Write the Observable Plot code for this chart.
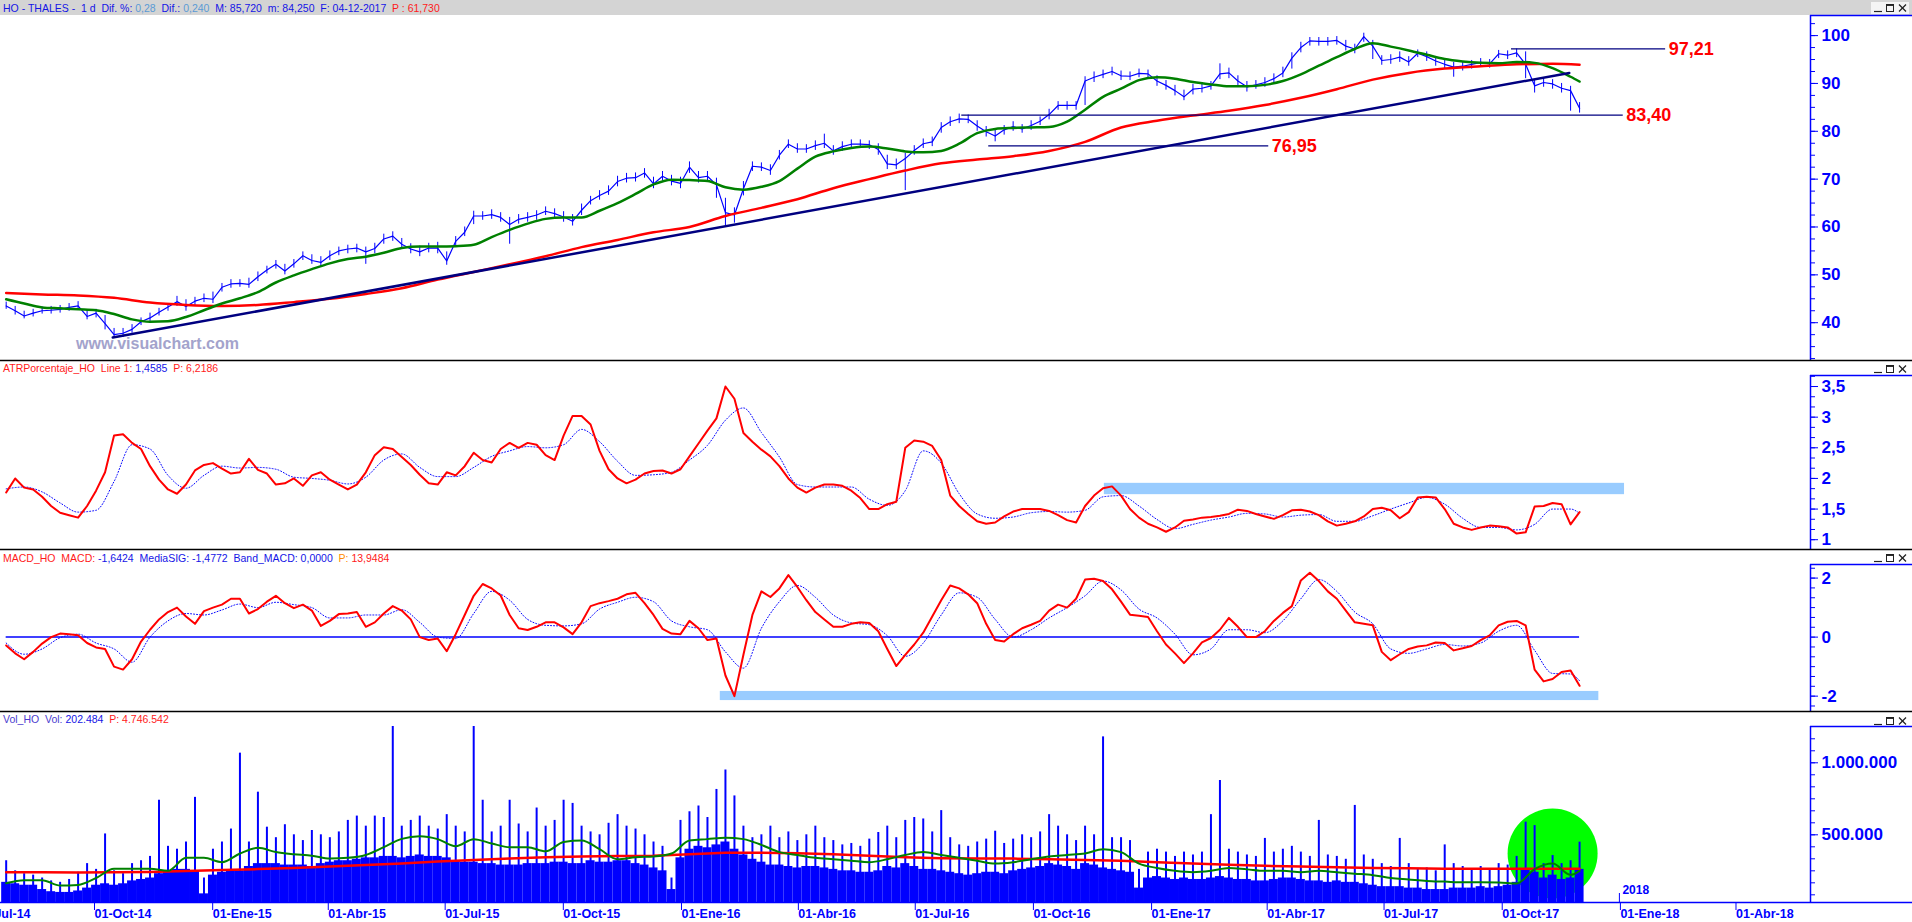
<!DOCTYPE html>
<html>
<head>
<meta charset="utf-8">
<script src="https://cdn.jsdelivr.net/npm/d3@7"></script>
<script src="https://cdn.jsdelivr.net/npm/@observablehq/plot@0.6"></script>
<style>
  body { margin: 0; background: #fff; }
  #wrap { position: relative; width: 1912px; height: 922px; overflow: hidden; font-family: "Liberation Sans", Arial, sans-serif; background:#fff; }
  .pane { position: absolute; left: 0; }
  .hdr { position: absolute; left: 3px; white-space: pre; font-size: 10.5px; line-height: 14px; height: 14px; }
  .wm { position: absolute; left: 76px; top: 335px; font: bold 16px "Liberation Sans", Arial, sans-serif; color: #a3a3cc; }
  #wrap svg text { font-family: "Liberation Sans", Arial, sans-serif; }
</style>
</head>
<body>
<div id="wrap"></div>
<script>
// ---------------- DATA ----------------
const firstWeek = "2014-07-25";          // first weekly sample (one value per week)
const mesAbbr = ["Ene","Feb","Mar","Abr","May","Jun","Jul","Ago","Sep","Oct","Nov","Dic"];
const xTickDates = ["2014-07-01","2014-10-01","2015-01-01","2015-04-01","2015-07-01","2015-10-01",
  "2016-01-01","2016-04-01","2016-07-01","2016-10-01","2017-01-01","2017-04-01","2017-07-01",
  "2017-10-01","2018-01-01","2018-04-01"];
const yearMark = "2018-01-01";

// price (weekly close / high / low)
const close = [
 43.5,42.5,41.4,42.0,42.5,42.6,42.8,43.2,43.5,41.3,
 42.0,39.8,37.5,37.8,38.6,40.2,41.0,42.2,43.3,44.4,
 43.4,44.5,45.1,44.9,47.4,48.1,48.2,48.0,49.6,51.0,
 52.2,50.8,52.3,54.0,53.0,52.6,54.0,55.0,55.4,55.6,
 54.8,55.5,57.5,58.1,56.4,55.4,54.8,55.6,55.6,52.9,
 57.0,58.9,62.3,62.3,62.6,62.0,60.5,61.6,62.0,62.5,
 63.3,62.8,62.1,61.2,63.5,65.5,66.6,67.5,69.5,70.2,
 70.3,71.3,69.0,70.6,69.6,69.1,72.5,70.3,70.6,68.8,
 63.0,62.5,68.0,72.7,72.5,71.8,75.0,77.3,76.3,76.3,
 77.0,77.5,75.9,76.8,77.3,77.3,77.2,76.2,73.2,73.0,
 74.3,76.0,77.4,77.8,80.8,82.0,82.6,82.5,81.1,79.9,
 79.0,80.3,81.0,80.5,81.2,82.1,83.5,85.4,85.4,85.4,
 90.5,91.3,91.9,92.5,91.6,91.5,92.1,92.0,90.5,89.6,
 88.5,87.2,88.8,89.0,89.5,92.0,92.2,90.5,89.3,89.7,
 90.2,91.0,92.2,95.3,97.5,98.9,98.8,98.8,99.0,97.8,
 97.2,99.8,97.8,94.8,95.0,95.5,94.5,96.3,95.6,94.7,
 94.0,93.4,93.6,94.0,94.4,94.1,96.2,95.9,96.4,94.0,
 89.5,90.2,89.9,89.0,88.5,84.8];
const high = [
 44.3,43.4,42.4,42.8,43.3,43.4,43.6,44.0,44.4,42.6,
 42.8,41.5,38.8,38.8,39.6,41.0,42.0,43.0,44.0,45.5,
 44.8,45.3,46.0,46.4,48.2,49.0,49.0,49.3,50.6,51.8,
 53.0,52.2,53.2,54.8,54.2,53.8,55.0,55.8,56.2,56.4,
 55.8,56.6,58.5,59.0,57.6,56.5,56.0,56.6,56.8,54.8,
 58.0,60.0,63.3,63.2,63.6,63.0,62.0,62.6,63.0,63.4,
 64.2,63.8,63.2,62.6,64.8,66.4,67.6,68.6,70.6,71.2,
 71.3,72.2,70.4,71.6,70.8,70.4,73.6,71.6,71.6,70.2,
 66.0,64.0,69.5,73.6,73.4,73.0,76.0,78.2,77.4,77.2,
 78.0,79.4,77.0,77.8,78.2,78.2,78.0,77.4,75.0,74.2,
 75.4,77.0,78.4,78.8,81.8,83.0,83.6,83.4,82.2,81.0,
 80.2,81.2,82.0,81.4,82.2,83.0,84.6,86.2,86.2,86.2,
 91.4,92.4,92.8,93.4,92.6,92.4,93.0,92.8,91.6,90.6,
 89.6,88.6,89.8,90.0,90.4,94.1,93.2,91.6,90.4,90.6,
 91.2,92.0,93.4,96.4,98.6,99.6,99.6,99.6,99.8,99.0,
 98.2,100.5,99.0,95.8,96.0,96.6,95.6,97.0,96.6,95.6,
 94.8,94.4,94.4,94.8,95.2,95.0,96.9,96.8,97.2,96.6,
 90.6,91.0,90.8,90.0,89.4,86.0];
const low = [
 42.8,41.6,40.8,41.2,41.8,41.8,42.0,42.4,42.6,40.6,
 41.0,38.5,36.8,36.9,37.8,39.4,40.2,41.4,42.4,43.4,
 42.4,43.6,44.2,44.0,46.4,47.2,47.4,47.2,48.6,50.2,
 51.2,50.0,51.4,53.0,52.2,51.6,53.0,54.0,54.4,54.6,
 52.2,54.4,56.4,57.0,55.4,54.4,53.8,54.6,54.4,52.0,
 55.8,58.0,60.5,61.4,61.6,61.0,56.4,60.6,61.0,61.4,
 62.4,61.8,61.0,60.2,62.4,64.6,65.6,66.6,68.4,69.2,
 69.4,70.2,68.0,69.6,68.6,68.0,71.2,69.2,69.4,66.0,
 60.2,60.8,66.5,71.6,71.6,70.8,74.0,76.4,75.4,75.4,
 76.0,76.4,75.0,75.8,76.4,76.4,76.2,75.0,72.0,72.0,
 67.6,75.0,76.4,76.8,79.6,81.0,81.6,81.6,80.0,78.8,
 77.8,79.2,80.0,79.6,80.2,81.2,82.4,84.4,84.4,84.4,
 85.4,90.2,91.0,91.6,90.6,90.6,91.2,91.0,89.4,88.6,
 87.4,86.4,87.6,88.0,88.6,90.8,91.0,89.4,88.2,88.8,
 89.2,90.0,91.2,93.0,96.4,97.8,97.8,97.8,98.0,96.8,
 96.2,98.6,95.0,93.8,94.0,94.4,93.6,95.4,94.6,93.6,
 93.0,91.3,92.6,93.0,93.4,93.2,95.2,95.0,95.4,91.0,
 88.0,89.2,88.8,88.0,84.2,83.8];
// moving averages of price (green: every 2 weeks, red: every 4 weeks, last = final bar)
const smaGreen = [
 44.9,44.0,43.2,43.0,42.8,42.6,41.8,40.7,40.2,40.3,
 41.2,42.6,44.0,45.1,46.4,48.4,49.9,51.2,52.4,53.3,
 53.8,54.6,55.6,55.9,55.9,56.0,56.3,57.9,59.4,60.7,
 61.7,62.0,62.0,63.4,65.0,66.9,68.9,69.9,69.8,69.6,
 68.3,67.8,68.4,69.6,72.2,74.7,75.8,76.5,76.8,76.4,
 75.8,75.6,75.9,77.4,79.6,80.5,80.7,80.8,80.9,82.0,
 84.5,87.2,88.9,90.7,91.3,91.0,90.3,89.8,89.4,89.4,
 89.7,90.5,91.9,93.7,95.5,97.2,98.4,97.7,96.9,96.0,
 95.1,94.6,94.3,94.2,94.5,94.3,93.2,91.4,90.4];
const smaRed = [
 46.2,45.9,45.7,45.2,44.2,43.7,43.5,43.7,44.3,45.0,
 46.0,47.2,49.0,50.6,52.2,53.9,55.8,57.3,58.9,60.0,
 62.3,64.0,65.8,68.1,70.0,71.8,73.3,74.1,74.8,75.9,
 77.8,80.8,82.2,83.3,84.3,85.5,87.0,88.8,90.8,92.2,
 93.1,93.6,94.0,94.1,93.9];
const trend = [{date: "2014-10-16", value: 36.9}, {date: "2017-11-23", value: 92.2}];
const levels = [
  {value: 97.21, from: "2017-10-09", to: "2018-02-06", label: "97,21"},
  {value: 83.40, from: "2016-08-07", to: "2018-01-04", label: "83,40"},
  {value: 76.95, from: "2016-08-28", to: "2017-04-03", label: "76,95"}];
const priceTicks = [40, 50, 60, 70, 80, 90, 100];

// ATR % (weekly) and its signal (every 2 weeks)
const atr = [
 1.77,2.0,1.85,1.82,1.7,1.55,1.44,1.4,1.36,1.55,
 1.8,2.1,2.7,2.72,2.58,2.48,2.2,1.98,1.82,1.75,
 1.9,2.13,2.22,2.25,2.16,2.08,2.1,2.32,2.14,2.08,
 1.9,1.92,2.0,1.88,2.05,2.1,1.98,1.9,1.82,1.9,
 2.1,2.38,2.51,2.48,2.35,2.22,2.06,1.92,1.9,2.1,
 2.05,2.2,2.42,2.3,2.26,2.48,2.58,2.5,2.58,2.55,
 2.38,2.3,2.7,3.02,3.02,2.88,2.45,2.15,2.0,1.92,
 1.98,2.08,2.12,2.13,2.08,2.15,2.36,2.57,2.78,2.98,
 3.5,3.3,2.74,2.6,2.47,2.36,2.2,2.0,1.85,1.77,
 1.85,1.9,1.9,1.88,1.8,1.68,1.5,1.5,1.58,1.62,
 2.5,2.62,2.6,2.53,2.3,1.72,1.55,1.42,1.3,1.26,
 1.28,1.38,1.46,1.5,1.5,1.5,1.47,1.4,1.32,1.28,
 1.55,1.72,1.84,1.87,1.72,1.5,1.36,1.26,1.2,1.13,
 1.2,1.31,1.33,1.36,1.37,1.39,1.42,1.49,1.47,1.42,
 1.38,1.34,1.4,1.48,1.49,1.46,1.4,1.3,1.23,1.26,
 1.3,1.38,1.5,1.52,1.48,1.35,1.45,1.69,1.7,1.69,
 1.5,1.26,1.2,1.16,1.2,1.23,1.22,1.2,1.1,1.12,
 1.54,1.55,1.6,1.58,1.25,1.45];
const atrSignal = [
 1.83,1.86,1.78,1.6,1.45,1.48,1.95,2.55,2.48,2.05,
 1.84,2.05,2.2,2.17,2.18,2.15,2.02,2.0,1.97,1.91,
 2.02,2.3,2.4,2.18,2.03,2.03,2.18,2.36,2.45,2.52,
 2.5,2.55,2.8,2.6,2.28,2.05,2.06,2.1,2.3,2.54,
 2.95,3.15,2.75,2.35,1.9,1.86,1.86,1.86,1.66,1.56,
 1.8,2.45,2.25,1.75,1.42,1.35,1.37,1.44,1.46,1.45,
 1.48,1.7,1.72,1.55,1.33,1.18,1.25,1.32,1.37,1.43,
 1.42,1.37,1.4,1.41,1.3,1.3,1.39,1.5,1.6,1.69,
 1.58,1.35,1.2,1.2,1.16,1.25,1.5,1.5,1.43];
const atrBand = [{from: "2016-11-26", to: "2018-01-05", lo: 1.735, hi: 1.92}];
const atrTicks = [1, 1.5, 2, 2.5, 3, 3.5];

// MACD (weekly) and its signal (every 2 weeks)
const macd = [
 -0.28,-0.55,-0.75,-0.5,-0.22,0.0,0.12,0.1,0.06,-0.2,
 -0.35,-0.4,-1.0,-1.1,-0.75,-0.15,0.25,0.6,0.85,1.0,
 0.7,0.45,0.88,1.0,1.1,1.3,1.3,0.8,0.95,1.2,
 1.4,1.15,0.98,1.1,0.9,0.38,0.55,0.78,0.8,0.85,
 0.35,0.5,0.8,1.05,0.9,0.6,0.0,-0.1,-0.05,-0.48,
 0.1,0.75,1.4,1.8,1.65,1.41,0.75,0.3,0.24,0.35,
 0.5,0.5,0.33,0.1,0.5,1.05,1.15,1.22,1.3,1.45,
 1.5,1.15,0.75,0.28,0.12,0.1,0.55,0.3,-0.1,-0.05,
 -1.3,-2.0,-0.6,0.75,1.55,1.36,1.65,2.1,1.7,1.25,
 0.85,0.6,0.35,0.35,0.45,0.5,0.48,0.2,-0.4,-0.98,
 -0.6,-0.25,0.15,0.7,1.25,1.75,1.65,1.45,1.15,0.45,
 -0.1,-0.15,0.1,0.3,0.42,0.55,0.9,1.1,1.0,1.3,
 1.95,1.98,1.9,1.62,1.2,0.76,0.72,0.68,0.2,-0.25,
 -0.55,-0.88,-0.55,-0.18,-0.03,0.25,0.65,0.35,0.0,0.0,
 0.2,0.55,0.82,1.05,1.92,2.18,1.9,1.55,1.3,0.9,
 0.5,0.45,0.4,-0.5,-0.78,-0.58,-0.4,-0.32,-0.28,-0.18,
 -0.2,-0.45,-0.38,-0.3,-0.1,0.06,0.4,0.52,0.55,0.4,
 -1.1,-1.5,-1.42,-1.18,-1.13,-1.65];
const macdSignal = [
 -0.2,-0.58,-0.4,-0.02,0.1,-0.2,-0.4,-0.85,0.0,0.55,
 0.8,0.75,0.92,1.12,1.0,1.18,1.1,1.0,0.65,0.65,
 0.75,0.75,0.93,0.5,0.0,-0.05,0.8,1.55,1.25,0.6,
 0.4,0.38,0.45,0.95,1.18,1.35,1.2,0.55,0.35,0.25,
 -0.5,-1.05,0.3,1.2,1.75,1.35,0.75,0.48,0.42,0.05,
 -0.65,-0.2,0.75,1.5,1.35,0.6,0.0,0.25,0.65,1.0,
 1.4,1.9,1.6,0.95,0.65,0.1,-0.6,-0.4,0.25,0.25,
 0.15,0.55,1.3,1.95,1.55,0.85,0.45,-0.4,-0.55,-0.4,
 -0.25,-0.3,-0.2,0.2,0.4,-0.45,-1.23,-1.25,-1.48];
const macdBand = [{from: "2016-02-01", to: "2017-12-16", lo: -2.15, hi: -1.84}];
const macdTicks = [-2, 0, 2];

// volume in thousands: weekly typical level, weekly largest session, averages
const volBase = [
 170,160,150,150,120,105,100,100,110,130,
 150,160,150,160,180,190,200,230,250,260,
 260,250,90,220,240,250,250,280,300,300,
 300,290,290,290,280,300,310,320,320,330,
 340,340,350,350,340,350,360,350,350,340,
 320,310,310,300,300,290,290,290,300,300,
 300,310,310,300,300,320,310,310,320,320,
 300,290,270,250,120,340,400,420,410,430,
 450,400,360,330,310,290,290,280,270,280,
 280,270,260,250,250,240,240,250,280,270,
 300,280,260,260,250,240,230,220,230,240,
 240,230,250,260,270,280,300,290,280,260,
 300,290,270,260,250,240,130,200,210,200,
 190,200,190,190,200,210,200,190,190,180,
 180,190,200,200,190,180,180,170,180,170,
 170,160,150,140,140,140,130,130,120,120,
 120,130,130,130,140,130,140,150,170,260,
 240,200,220,190,200,260];
const volMax = [
 320,250,230,220,200,180,170,190,240,300,
 260,506,250,230,300,320,350,740,420,400,
 450,760,200,400,450,540,1067,450,796,553,
 480,570,500,460,530,500,480,520,600,630,
 560,630,620,1252,560,600,630,560,540,640,
 560,520,1252,740,520,560,740,575,520,686,
 560,600,740,718,560,520,500,580,640,560,
 540,500,450,420,200,600,660,700,620,815,
 950,770,560,480,500,560,480,520,460,500,
 560,480,460,430,440,420,470,516,560,480,
 600,620,610,520,668,480,430,420,450,470,
 525,440,470,500,480,520,640,560,500,460,
 560,500,1180,480,480,460,260,380,400,380,
 350,380,360,380,640,877,400,380,360,350,
 475,380,400,420,380,350,600,360,350,330,
 704,360,330,300,280,475,300,260,270,250,
 430,300,280,260,280,260,300,290,350,588,
 564,300,356,300,320,449];
const volGreen = [
 164,185,185,148,152,200,264,264,264,250,
 340,340,310,370,410,380,365,355,335,340,
 360,414,472,490,470,420,470,440,414,414,
 385,450,460,400,330,345,350,370,460,470,
 480,470,430,380,360,340,330,320,310,330,
 360,380,360,340,320,300,310,330,350,360,
 370,400,380,300,270,250,240,250,270,260,
 250,250,240,250,240,230,220,200,190,180,
 175,170,170,169,162,262,300,222,250];
const volRed = [
 240,240,238,240,242,248,255,262,270,280,
 290,300,315,325,335,345,350,352,355,365,
 375,375,372,365,355,345,338,335,335,330,
 325,320,310,300,292,285,280,275,270,268,
 265,264,264,264,264];
const highlight = [{date: "2017-11-10", vol: 370}];
const volTicks = [500000, 1000000];

// ---------------- BUILD ----------------
const t0 = new Date(firstWeek);
const weekDates = close.map((_, k) => d3.utcDay.offset(t0, 7 * k));
const last = weekDates.length - 1;
const ks2 = d3.range(0, last + 1, 2).concat([last]);
const ks4 = d3.range(0, last + 1, 4).concat([last]);
const weekly = weekDates.map((date, k) => ({
  date, close: close[k], high: high[k], low: low[k], atr: atr[k], macd: macd[k],
  vol: volBase[k] * 1000, volMax: volMax[k] * 1000}));
const bi = ks2.map((k, i) => ({date: weekDates[k], green: smaGreen[i], atrSig: atrSignal[i],
  macdSig: macdSignal[i], volGreen: volGreen[i] * 1000}));
const quad = ks4.map((k, i) => ({date: weekDates[k], red: smaRed[i], volRed: volRed[i] * 1000}));

const xDomain = [new Date("2014-07-20T14:00Z"), new Date("2018-05-29T19:00Z")];
const W = 1912, MR = 102;
const BLUE = "#0000ff", RED = "#ff0000", GREEN = "#008000", NAVY = "#000080";
const comma = d => String(d).replace(".", ",");
const dotted = d3.format(",.0f");
const fmtVol = d => dotted(d).replace(/,/g, ".");
const fmtDate = d => `01-${mesAbbr[d.getUTCMonth()]}-${String(d.getUTCFullYear()).slice(2)}`;
const base = {width: W, marginLeft: 0, marginRight: MR,
  style: {fontFamily: "Liberation Sans, Arial, sans-serif", background: "transparent"}};
const xOpt = {type: "utc", domain: xDomain, axis: null};
const edge = () => Plot.ruleX([xDomain[1]], {stroke: BLUE, strokeWidth: 1.5});
const minorAxis = (ticks) => Plot.axisY({ticks, anchor: "right", tickSize: 4, tickFormat: () => "", color: BLUE});
const majorAxis = (ticks, fmt) => Plot.axisY({ticks, anchor: "right", tickSize: 7, tickPadding: 4,
  tickFormat: fmt, color: BLUE, fontWeight: "bold", fontSize: 17});

const price = Plot.plot({...base, height: 345, marginTop: 0, marginBottom: 0,
  x: xOpt, y: {domain: [32.1, 104.2]},
  marks: [
    Plot.ruleX(weekly, {x: "date", y1: "low", y2: "high", stroke: BLUE, strokeWidth: 1}),
    Plot.line(weekly, {x: "date", y: "close", stroke: BLUE, strokeWidth: 1.2}),
    Plot.line(quad, {x: "date", y: "red", stroke: RED, strokeWidth: 2.5, curve: "monotone-x"}),
    Plot.line(bi, {x: "date", y: "green", stroke: GREEN, strokeWidth: 2.5, curve: "monotone-x"}),
    Plot.line(trend, {x: d => new Date(d.date), y: "value", stroke: NAVY, strokeWidth: 2.5}),
    Plot.ruleY(levels, {y: "value", x1: d => new Date(d.from), x2: d => new Date(d.to), stroke: NAVY, strokeWidth: 1.2}),
    Plot.text(levels, {x: d => new Date(d.to), y: "value", text: "label", textAnchor: "start", dx: 3,
      fill: RED, fontWeight: "bold", fontSize: 18}),
    edge(),
    minorAxis(d3.range(32.5, 104, 2.5)),
    majorAxis(priceTicks, comma)
  ]});

const atrChart = Plot.plot({...base, height: 189, marginTop: 15, marginBottom: 0,
  x: xOpt, y: {domain: [0.84, 3.68]},
  marks: [
    Plot.rect(atrBand, {x1: d => new Date(d.from), x2: d => new Date(d.to), y1: "lo", y2: "hi", fill: "#99ccff"}),
    Plot.line(bi, {x: "date", y: "atrSig", stroke: BLUE, strokeWidth: 1, strokeDasharray: "1,2", curve: "monotone-x"}),
    Plot.line(weekly, {x: "date", y: "atr", stroke: RED, strokeWidth: 2}),
    edge(),
    minorAxis(d3.range(5, 23).map(i => i / 6)),
    majorAxis(atrTicks, comma)
  ]});

const macdChart = Plot.plot({...base, height: 162, marginTop: 15.3, marginBottom: 0,
  x: xOpt, y: {domain: [-2.52, 2.45]},
  marks: [
    Plot.rect(macdBand, {x1: d => new Date(d.from), x2: d => new Date(d.to), y1: "lo", y2: "hi", fill: "#99ccff"}),
    Plot.ruleY([0], {x1: weekDates[0], x2: weekDates[last], stroke: BLUE, strokeWidth: 1.5}),
    Plot.line(bi, {x: "date", y: "macdSig", stroke: BLUE, strokeWidth: 1, strokeDasharray: "1,2", curve: "monotone-x"}),
    Plot.line(weekly, {x: "date", y: "macd", stroke: RED, strokeWidth: 2}),
    edge(),
    minorAxis(d3.range(-7, 8).map(i => i / 3)),
    majorAxis(macdTicks, comma)
  ]});

const volChart = Plot.plot({...base, height: 211, marginTop: 15, marginBottom: 20,
  x: {type: "utc", domain: xDomain}, y: {domain: [30000, 1252000]},
  marks: [
    Plot.dot(highlight, {x: d => new Date(d.date), y: d => d.vol * 1000, r: 45, fill: "#00ff00", stroke: null}),
    Plot.rect(weekly, {x1: d => d3.utcHour.offset(d.date, -84), x2: d => d3.utcHour.offset(d.date, 84),
      y1: 0, y2: "vol", fill: BLUE, clip: true}),
    Plot.ruleX(weekly, {x: "date", y1: 0, y2: "volMax", stroke: BLUE, strokeWidth: 2, clip: true}),
    Plot.line(quad, {x: "date", y: "volRed", stroke: RED, strokeWidth: 2.5}),
    Plot.line(bi, {x: "date", y: "volGreen", stroke: GREEN, strokeWidth: 2, curve: "monotone-x"}),
    edge(),
    minorAxis(d3.range(1, 15).map(i => i * 500000 / 6)),
    majorAxis(volTicks, fmtVol),
    Plot.axisX({ticks: xTickDates.map(d => new Date(d)), anchor: "bottom", tickSize: 8, tickPadding: -1,
      tickFormat: fmtDate, textAnchor: "start", dx: 1, color: BLUE, fontWeight: "bold", fontSize: 12.5}),
    Plot.ruleX([new Date(yearMark)], {stroke: BLUE, strokeWidth: 1, insetTop: 167}),
    Plot.text([new Date(yearMark)], {x: d => d, frameAnchor: "bottom", dy: -9, dx: 3, textAnchor: "start",
      text: d => String(d.getUTCFullYear()), fill: BLUE, fontWeight: "bold", fontSize: 12})
  ]});

// ---------------- LAYOUT ----------------
const wrap = document.getElementById("wrap");
function place(node, top) { node.classList.add("pane"); node.style.top = top + "px"; wrap.appendChild(node); }
place(price, 15); place(atrChart, 360); place(macdChart, 549); place(volChart, 711);

const ns = "http://www.w3.org/2000/svg";
const ov = document.createElementNS(ns, "svg");
ov.setAttribute("width", W); ov.setAttribute("height", 922);
ov.style.cssText = "position:absolute;left:0;top:0;pointer-events:none";
let html = `<rect x="0" y="0" width="${W}" height="15" fill="#d4d4d4"/>`;
for (const y of [360.5, 549.5, 711.5]) html += `<line x1="0" x2="${W}" y1="${y}" y2="${y}" stroke="#000" stroke-width="1.3"/>`;
for (const y of [15.5, 375.5, 564.5, 726.5]) html += `<line x1="1810" x2="${W}" y1="${y}" y2="${y}" stroke="${BLUE}" stroke-width="1.5"/>`;
html += `<line x1="0" x2="${W}" y1="902.5" y2="902.5" stroke="${BLUE}" stroke-width="1.5"/>`;
function icons(T, bg) {
  let s = bg ? `<rect x="1871" y="${T+2}" width="38" height="12" fill="#f4f4f4"/>` : "";
  s += `<line x1="1874" x2="1882" y1="${T+11.5}" y2="${T+11.5}" stroke="#222" stroke-width="1.2"/>`;
  s += `<rect x="1886.5" y="${T+4.5}" width="7" height="7" fill="none" stroke="#222" stroke-width="1"/>`;
  s += `<line x1="1886.5" x2="1893.5" y1="${T+5.2}" y2="${T+5.2}" stroke="#222" stroke-width="1.5"/>`;
  s += `<line x1="1899" x2="1906" y1="${T+4.5}" y2="${T+11.5}" stroke="#222" stroke-width="1.3"/>`;
  s += `<line x1="1906" x2="1899" y1="${T+4.5}" y2="${T+11.5}" stroke="#222" stroke-width="1.3"/>`;
  return s;
}
html += icons(0, true) + icons(361, false) + icons(550, false) + icons(713, false);
ov.innerHTML = html;
wrap.appendChild(ov);

function header(top, parts) {
  const d = document.createElement("div");
  d.className = "hdr"; d.style.top = top + "px";
  d.innerHTML = parts.map(([t, c]) => `<span style="color:${c}">${t}</span>`).join("");
  wrap.appendChild(d);
}
header(1, [["HO - THALES -  1 d  Dif. %: ", "#1414e6"], ["0,28", "#5b9bd5"], ["  Dif.: ", "#1414e6"],
  ["0,240", "#5b9bd5"], ["  M: 85,720  m: 84,250  F: 04-12-2017  ", "#1414e6"], ["P : 61,730", "#ff1a1a"]]);
header(361, [["ATRPorcentaje_HO  Line 1: ", "#ff1a1a"], ["1,4585", "#1414e6"], ["  P: 6,2186", "#ff1a1a"]]);
header(551, [["MACD_HO  MACD: ", "#ff1a1a"], ["-1,6424  MediaSIG: -1,4772  Band_MACD: 0,0000  ", "#1414e6"],
  ["P: ", "#ff8c00"], ["13,9484", "#ff1a1a"]]);
header(712, [["Vol_HO  Vol: ", "#4b3ccf"], ["202.484  ", "#1414e6"], ["P: 4.746.542", "#ff1a1a"]]);

const wm = document.createElement("div");
wm.className = "wm"; wm.textContent = "www.visualchart.com";
wrap.appendChild(wm);
</script>
</body>
</html>
